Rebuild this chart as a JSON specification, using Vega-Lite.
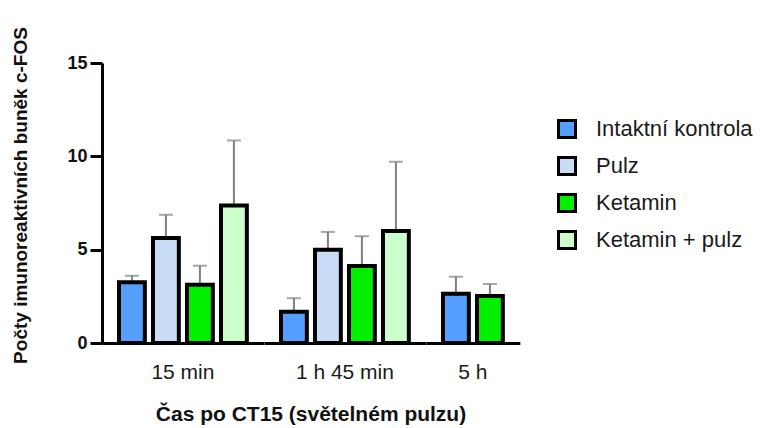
{
  "$schema": "https://vega.github.io/schema/vega-lite/v6.json",
  "background": "white",
  "padding": {"left": 11, "top": 26, "right": 5, "bottom": 2},
  "data": {
    "values": [
      {"cas": "15 min", "skupina": "Intaktní kontrola", "prumer": 3.25, "horni": 3.6},
      {"cas": "15 min", "skupina": "Pulz", "prumer": 5.62, "horni": 6.87},
      {"cas": "15 min", "skupina": "Ketamin", "prumer": 3.12, "horni": 4.14},
      {"cas": "15 min", "skupina": "Ketamin + pulz", "prumer": 7.37, "horni": 10.85},
      {"cas": "1 h 45 min", "skupina": "Intaktní kontrola", "prumer": 1.68, "horni": 2.4},
      {"cas": "1 h 45 min", "skupina": "Pulz", "prumer": 5.0, "horni": 5.95},
      {"cas": "1 h 45 min", "skupina": "Ketamin", "prumer": 4.12, "horni": 5.72},
      {"cas": "1 h 45 min", "skupina": "Ketamin + pulz", "prumer": 6.0, "horni": 9.71},
      {"cas": "5 h", "skupina": "Intaktní kontrola", "prumer": 2.64, "horni": 3.55},
      {"cas": "5 h", "skupina": "Ketamin", "prumer": 2.52, "horni": 3.16}
    ]
  },
  "facet": {
    "column": {
      "field": "cas",
      "type": "nominal",
      "sort": ["15 min", "1 h 45 min", "5 h"],
      "header": {
        "labelOrient": "bottom",
        "labelFont": "Liberation Sans",
        "labelFontSize": 21,
        "labelColor": "#1a1a1a",
        "labelPadding": 17,
        "title": "Čas po CT15 (světelném pulzu)",
        "titleOrient": "bottom",
        "titleFont": "Liberation Sans",
        "titleFontSize": 21,
        "titleFontWeight": "bold",
        "titleColor": "#111111",
        "titlePadding": 11
      }
    }
  },
  "spacing": 0,
  "resolve": {"scale": {"x": "independent"}},
  "spec": {
    "width": {"step": 34},
    "height": 280,
    "encoding": {
      "x": {
        "field": "skupina",
        "type": "nominal",
        "sort": ["Intaktní kontrola", "Pulz", "Ketamin", "Ketamin + pulz"],
        "scale": {"paddingInner": 0.24, "paddingOuter": 0.5},
        "axis": {"labels": false, "ticks": false, "title": null, "domainWidth": 3, "domainColor": "black"}
      }
    },
    "layer": [
      {
        "mark": {"type": "rule", "color": "#808080", "strokeWidth": 2},
        "encoding": {
          "y": {"field": "prumer", "type": "quantitative"},
          "y2": {"field": "horni"}
        }
      },
      {
        "mark": {"type": "tick", "color": "#808080", "thickness": 2, "size": 14},
        "encoding": {
          "y": {"field": "horni", "type": "quantitative"}
        }
      },
      {
        "mark": {"type": "bar", "stroke": "black", "strokeWidth": 4, "fillOpacity": 1},
        "encoding": {
          "y": {
            "field": "prumer",
            "type": "quantitative",
            "scale": {"domain": [0, 15], "nice": false},
            "axis": {
              "values": [0, 5, 10, 15],
              "grid": false,
              "domainWidth": 3,
              "domainColor": "black",
              "tickWidth": 3,
              "tickColor": "black",
              "tickSize": 12,
              "labelFont": "Liberation Sans",
              "labelFontSize": 18,
              "labelFontWeight": "bold",
              "labelColor": "#111111",
              "labelPadding": 3,
              "title": "Počty imunoreaktivních buněk c-FOS",
              "titleFont": "Liberation Sans",
              "titleFontSize": 19,
              "titleFontWeight": "bold",
              "titleColor": "#111111",
              "titlePadding": 36,
              "titleY": 132
            }
          },
          "color": {
            "field": "skupina",
            "type": "nominal",
            "sort": ["Intaktní kontrola", "Pulz", "Ketamin", "Ketamin + pulz"],
            "scale": {
              "domain": ["Intaktní kontrola", "Pulz", "Ketamin", "Ketamin + pulz"],
              "range": ["#559FFF", "#C9DDF7", "#00F000", "#CCFFCC"]
            },
            "legend": {
              "title": null,
              "orient": "none",
              "legendX": 454,
              "legendY": 55,
              "symbolType": "square",
              "symbolSize": 289,
              "symbolStrokeColor": "black",
              "symbolStrokeWidth": 3,
              "symbolOpacity": 1,
              "labelFont": "Liberation Sans",
              "labelFontSize": 22,
              "labelColor": "#1a1a1a",
              "labelOffset": 18,
              "rowPadding": 7
            }
          }
        }
      }
    ]
  },
  "config": {
    "view": {"stroke": null}
  }
}
